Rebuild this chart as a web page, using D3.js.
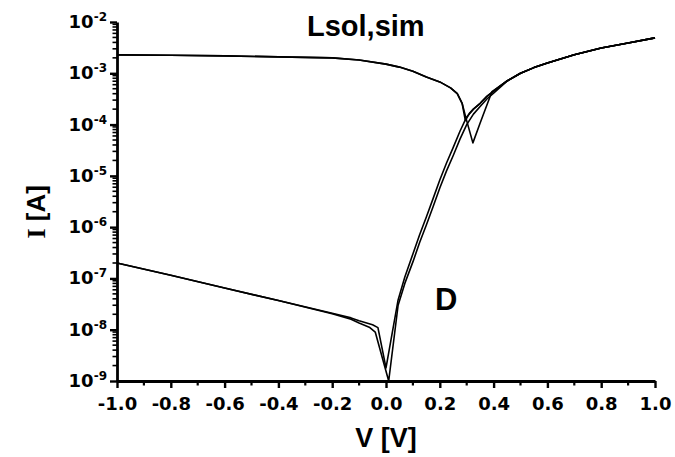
<!DOCTYPE html>
<html>
<head>
<meta charset="utf-8">
<script src="https://cdn.jsdelivr.net/npm/d3@7"></script>
<style>
  body { margin: 0; background: #fff; }
  text { font-family: "Liberation Sans", Arial, sans-serif; font-weight: bold; fill: #000; }
  .tl { font-family: "DejaVu Sans", sans-serif; }
</style>
</head>
<body>
<div id="chart"></div>
<script>
// voltage points (V) and currents (A)
const vDark1 = [-1.0, -0.8, -0.6, -0.4, -0.2, -0.13, -0.1, -0.05, -0.03, 0.0, 0.045, 0.07, 0.1, 0.125, 0.15, 0.175, 0.2, 0.225, 0.25, 0.275, 0.3, 0.325, 0.35, 0.375, 0.4, 0.45, 0.5, 0.55, 0.6, 0.7, 0.8, 0.9, 1.0];
const iDark1 = [2.0e-7, 1.15e-7, 6.5e-8, 3.7e-8, 2.1e-8, 1.7e-8, 1.5e-8, 1.25e-8, 1.1e-8, 1.8e-9, 3.8e-8, 1.07e-7, 3.0e-7, 7.1e-7, 1.58e-6, 3.6e-6, 8.3e-6, 1.78e-5, 3.6e-5, 7.4e-5, 1.41e-4, 2.0e-4, 2.6e-4, 3.55e-4, 4.5e-4, 7.1e-4, 1.0e-3, 1.29e-3, 1.58e-3, 2.29e-3, 3.1e-3, 3.9e-3, 4.9e-3];

const vDark2 = [-1.0, -0.8, -0.6, -0.4, -0.2, -0.13, -0.1, -0.06, -0.04, 0.01, 0.045, 0.07, 0.1, 0.125, 0.15, 0.175, 0.2, 0.225, 0.25, 0.275, 0.3, 0.325, 0.35, 0.375, 0.4, 0.45, 0.5, 0.55, 0.6, 0.7, 0.8, 0.9, 1.0];
const iDark2 = [2.0e-7, 1.15e-7, 6.5e-8, 3.7e-8, 2.05e-8, 1.6e-8, 1.35e-8, 1.1e-8, 9.0e-9, 1.0e-9, 3.0e-8, 8.0e-8, 2.1e-7, 5.0e-7, 1.1e-6, 2.5e-6, 5.8e-6, 1.25e-5, 2.5e-5, 5.2e-5, 1.0e-4, 1.6e-4, 2.25e-4, 3.15e-4, 4.1e-4, 7.0e-4, 1.0e-3, 1.29e-3, 1.58e-3, 2.29e-3, 3.1e-3, 3.9e-3, 4.9e-3];

const vLight1 = [-1.0, -0.8, -0.6, -0.4, -0.2, -0.1, 0.0, 0.05, 0.1, 0.15, 0.2, 0.24, 0.265, 0.283, 0.297, 0.323, 0.35, 0.394, 0.45, 0.5, 0.55, 0.6, 0.7, 0.8, 0.9, 1.0];
const iLight1 = [2.29e-3, 2.24e-3, 2.19e-3, 2.09e-3, 2.0e-3, 1.82e-3, 1.51e-3, 1.32e-3, 1.1e-3, 8.5e-4, 6.8e-4, 5.2e-4, 4.0e-4, 2.6e-4, 1.35e-4, 4.4e-5, 1.07e-4, 4.4e-4, 7.1e-4, 1.0e-3, 1.29e-3, 1.58e-3, 2.29e-3, 3.1e-3, 3.9e-3, 4.9e-3];

const vLight2 = [-1.0, -0.8, -0.6, -0.4, -0.2, -0.1, 0.0, 0.05, 0.1, 0.15, 0.2, 0.24, 0.265, 0.283, 0.295, 0.31, 0.325, 0.35, 0.375, 0.4, 0.45, 0.5, 0.55, 0.6, 0.7, 0.8, 0.9, 1.0];
const iLight2 = [2.29e-3, 2.24e-3, 2.19e-3, 2.09e-3, 2.0e-3, 1.82e-3, 1.51e-3, 1.32e-3, 1.1e-3, 8.5e-4, 6.8e-4, 5.2e-4, 4.0e-4, 2.6e-4, 1.2e-4, 1.65e-4, 2.0e-4, 2.6e-4, 3.55e-4, 4.5e-4, 7.1e-4, 1.0e-3, 1.29e-3, 1.58e-3, 2.29e-3, 3.1e-3, 3.9e-3, 4.9e-3];

const xTicks = [-1.0, -0.8, -0.6, -0.4, -0.2, 0.0, 0.2, 0.4, 0.6, 0.8, 1.0];
const xMinor = [-0.9, -0.7, -0.5, -0.3, -0.1, 0.1, 0.3, 0.5, 0.7, 0.9];
const yExps = [-9, -8, -7, -6, -5, -4, -3, -2];

const width = 675, height = 457;
const margin = ({top: 22, right: 20, bottom: 76, left: 117});

const svg = d3.select('#chart').append('svg')
    .attr('width', width)
    .attr('height', height);

const x = d3.scaleLinear().domain([-1, 1]).range([margin.left, width - margin.right]);
const y = d3.scaleLog().domain([1e-9, 1e-2]).range([height - margin.bottom, margin.top]);

const series = [
    {v: vDark1, i: iDark1},
    {v: vDark2, i: iDark2},
    {v: vLight1, i: iLight1},
    {v: vLight2, i: iLight2}
];

const line = d3.line()
    .x(d => x(d[0]))
    .y(d => y(Math.max(d[1], 1e-9)));

svg.append('g')
    .selectAll('path')
    .data(series)
    .join('path')
    .attr('fill', 'none')
    .attr('stroke', '#000')
    .attr('stroke-width', 1.6)
    .attr('stroke-linejoin', 'round')
    .attr('d', s => line(s.v.map((v, k) => [v, s.i[k]])));

// x axis: major ticks with labels, minor every 0.1
const xAxis = svg.append('g')
    .attr('transform', `translate(0,${y(1e-9)})`)
    .call(d3.axisBottom(x).tickValues(xTicks).tickFormat(d => d3.format('.1f')(d).replace('\u2212', '-')).tickSize(7).tickSizeOuter(0));
xAxis.selectAll('text')
    .attr('class', 'tl')
    .attr('font-size', 18)
    .attr('y', 29)
    .attr('dy', 0);
xAxis.append('g')
    .selectAll('line')
    .data(xMinor)
    .join('line')
    .attr('x1', d => x(d)).attr('x2', d => x(d))
    .attr('y1', 0).attr('y2', 4.5)
    .attr('stroke', '#000').attr('stroke-width', 2.2);

// y axis: log decades, minor ticks 2..9
const yAxis = svg.append('g')
    .attr('transform', `translate(${x(-1)},0)`)
    .call(d3.axisLeft(y).tickValues(yExps.map(e => Math.pow(10, e))).tickFormat('').tickSize(7).tickSizeOuter(0));
const minors = [];
yExps.slice(0, -1).forEach(e => { for (let m = 2; m <= 9; m++) minors.push(m * Math.pow(10, e)); });
yAxis.append('g')
    .selectAll('line')
    .data(minors)
    .join('line')
    .attr('x1', 0).attr('x2', -4.5)
    .attr('y1', d => y(d)).attr('y2', d => y(d))
    .attr('stroke', '#000').attr('stroke-width', 1.6);

svg.selectAll('.domain').attr('stroke-width', 2.8);
svg.selectAll('.tick line').attr('stroke-width', 2.4);

const yLab = yAxis.append('g')
    .selectAll('text')
    .data(yExps)
    .join('text')
    .attr('class', 'tl')
    .attr('x', -10)
    .attr('y', e => y(Math.pow(10, e)) + 6)
    .attr('text-anchor', 'end')
    .attr('font-size', 18);
yLab.append('tspan').text('10');
yLab.append('tspan').attr('dy', -7).attr('font-size', 12).text(e => '-' + Math.abs(e));

svg.append('text')
    .attr('x', x(0))
    .attr('y', 447)
    .attr('text-anchor', 'middle')
    .attr('font-size', 27)
    .text('V [V]');

const yTitle = svg.append('text')
    .attr('transform', `translate(45,${y(Math.pow(10, -5.7))}) rotate(-90)`)
    .attr('text-anchor', 'middle')
    .attr('font-size', 26);
yTitle.append('tspan').attr('font-family', '"Liberation Serif", serif').text('I');
yTitle.append('tspan').text(' [A]');

svg.append('text')
    .attr('x', 307)
    .attr('y', 36)
    .attr('font-size', 29)
    .text('Lsol,sim');

svg.append('text')
    .attr('x', 435)
    .attr('y', 310)
    .attr('font-size', 31)
    .text('D');
</script>
</body>
</html>
